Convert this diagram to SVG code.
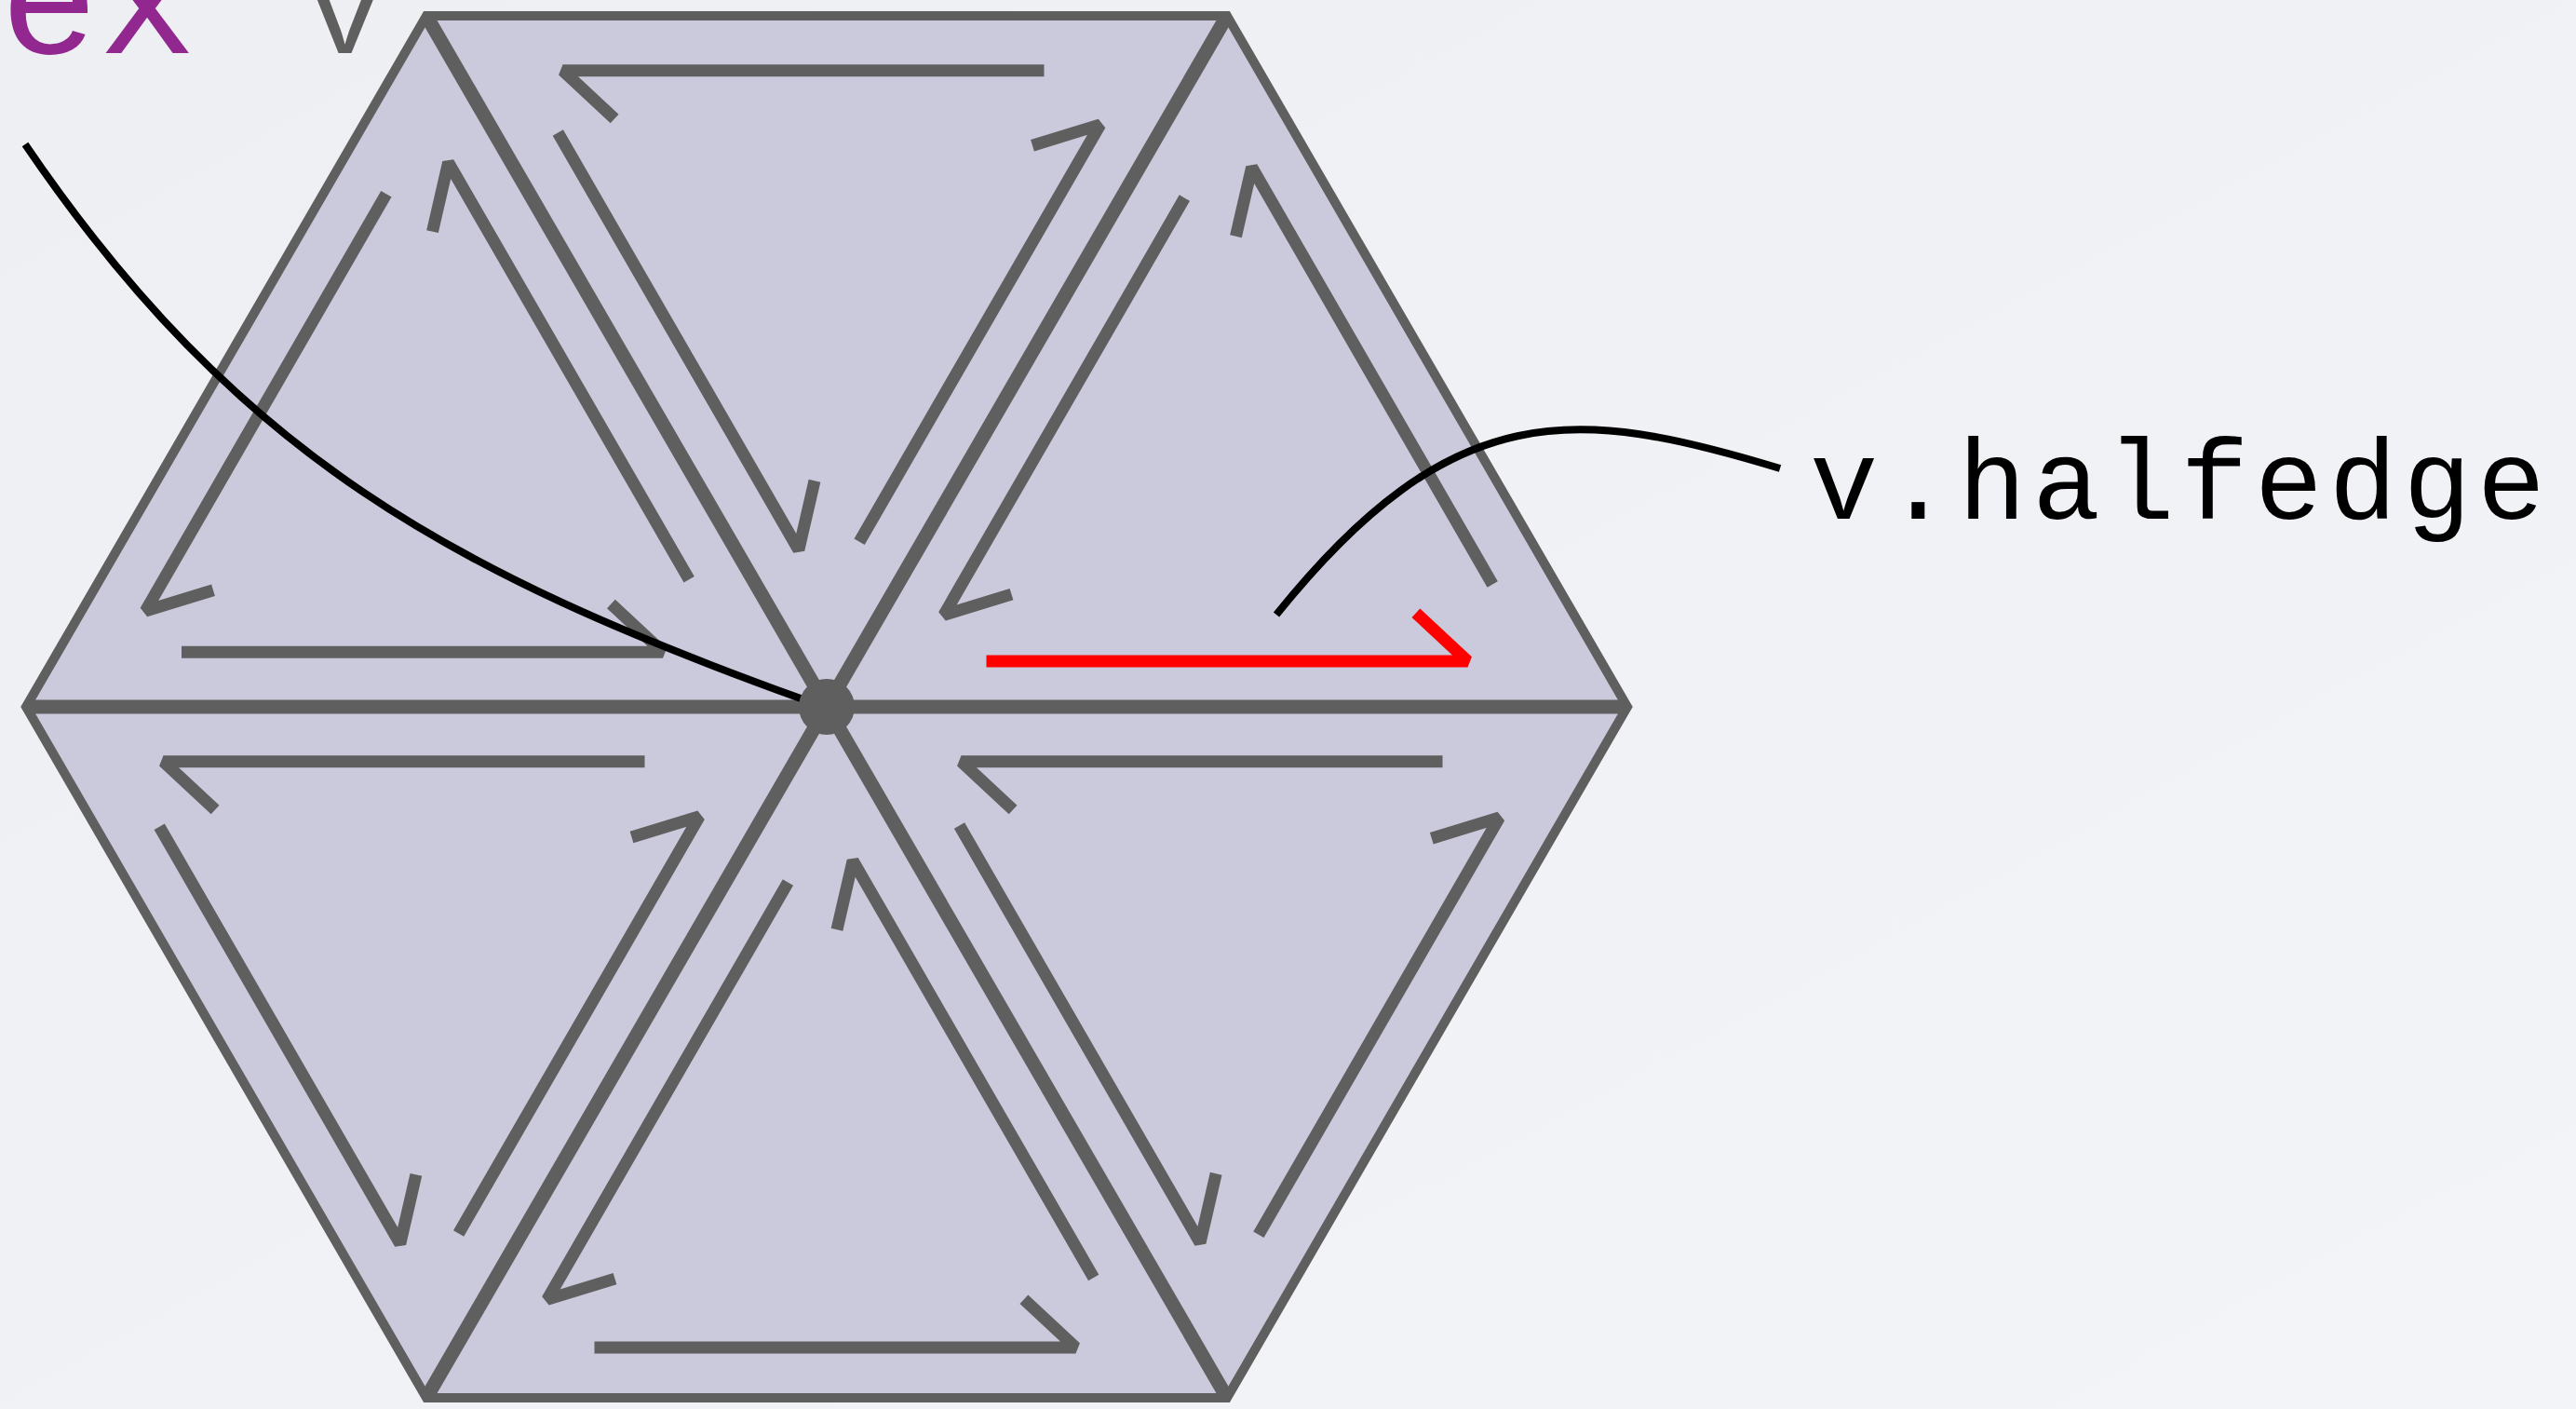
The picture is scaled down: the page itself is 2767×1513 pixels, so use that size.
<svg xmlns="http://www.w3.org/2000/svg" width="2767" height="1513" viewBox="0 0 2767 1513">
<defs>
<linearGradient id="bg" x1="0" y1="0" x2="1" y2="1">
<stop offset="0" stop-color="#edeff3"/>
<stop offset="1" stop-color="#f3f4f7"/>
</linearGradient>
<style>
.face{fill:#cbcadc;stroke:none}
.rim{fill:none;stroke:#5f5f5f;stroke-width:10;stroke-linejoin:miter}
.spoke{stroke:#5f5f5f;stroke-width:15;stroke-linecap:butt}
.he{fill:none;stroke:#5f5f5f;stroke-width:13;stroke-linecap:butt;stroke-linejoin:bevel}
.he-red{fill:none;stroke:#ff0000;stroke-width:13;stroke-linecap:butt;stroke-linejoin:bevel}
.lead{fill:none;stroke:#000;stroke-width:8}
.mono{font-family:"Liberation Mono","Courier New",monospace}
</style>
</defs>
<rect width="2767" height="1513" fill="url(#bg)"/>
<g id="title">
<text class="mono" x="0" y="57" font-size="176" fill="#92278f">ex</text>
<text class="mono" x="331" y="57" font-size="133" fill="#5f5f5f">v</text>
</g>
<g id="mesh">
<polygon class="face" points="458,17 1318,17 1748,759 1318,1501 458,1501 28,759"/>
<polygon class="rim" points="458,17 1318,17 1748,759 1318,1501 458,1501 28,759"/>
<line class="spoke" x1="458" y1="17" x2="1318" y2="1501"/>
<line class="spoke" x1="1318" y1="17" x2="458" y2="1501"/>
<line class="spoke" x1="28" y1="759" x2="1748" y2="759"/>
</g>
<g id="face-top">
<polyline class="he" points="1121.5,75.8 604.5,75.8 660.1,127.6"/>
<polyline class="he" points="599.3,142.6 857.9,590.4 875,516.3"/>
<polyline class="he" points="923.1,581.7 1181.7,133.9 1109,156.2"/>
</g>
<g id="face-upper-left">
<polyline class="he" points="740.2,622.3 481.6,174.5 464.5,248.6"/>
<polyline class="he" points="414.9,208.2 156.3,656 229,633.7"/>
<polyline class="he" points="195,700.2 712,700.2 656.4,648.4"/>
</g>
<g id="face-upper-right">
<polyline class="he-red" points="1059.5,710 1576.5,710 1520.9,658.2"/>
<polyline class="he" points="1603.2,627.4 1344.6,179.6 1327.5,253.7"/>
<polyline class="he" points="1272.4,212.6 1013.8,660.4 1086.5,638.1"/>
</g>
<g id="face-lower-left">
<polyline class="he" points="692.5,817.8 175.5,817.8 231.1,869.6"/>
<polyline class="he" points="171.2,887.7 429.8,1335.5 446.9,1261.4"/>
<polyline class="he" points="492.6,1324.5 751.2,876.7 678.5,899"/>
</g>
<g id="face-bottom">
<polyline class="he" points="846.4,947.6 587.8,1395.4 660.5,1373.1"/>
<polyline class="he" points="638.5,1447 1155.5,1447 1099.9,1395.2"/>
<polyline class="he" points="1174.7,1372 916.1,924.2 899,998.3"/>
</g>
<g id="face-lower-right">
<polyline class="he" points="1549.5,817.8 1032.5,817.8 1088.1,869.6"/>
<polyline class="he" points="1030.5,886.6 1289.1,1334.4 1306.2,1260.3"/>
<polyline class="he" points="1351.9,1325.7 1610.5,877.9 1537.8,900.2"/>
</g>
<g id="connectors">
<path class="lead" d="M27,155 C255,490 486,615 860,750"/>
<path class="lead" d="M1371,660 C1560,425 1692,436 1912,503"/>
</g>
<g id="vertex-v">
<circle cx="888" cy="759" r="30" fill="#5f5f5f"/>
</g>
<g id="label-halfedge">
<text class="mono" x="1944" y="557" font-size="122" textLength="790" lengthAdjust="spacing" fill="#000">v.halfedge</text>
</g>
</svg>
